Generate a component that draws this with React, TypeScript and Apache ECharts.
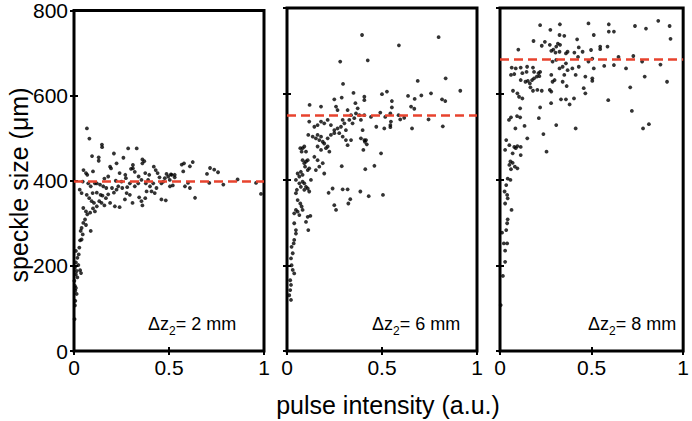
import React, { useEffect, useRef } from 'react';
import * as echarts from 'echarts';

const FONT = '"Liberation Sans", Arial, Helvetica, sans-serif';

const xTickValues = [0, 0.5, 1];
const yTickValues = [0, 200, 400, 600, 800];
const panelDistances = ['2 mm', '6 mm', '8 mm'];
const refLevels = [400, 550, 680];
const xAxisTitle = 'pulse intensity (a.u.)';
const yAxisTitle = 'speckle size (μm)';

const panel1: [number, number][] = [
  [0.068, 523], [0.081, 499], [0.095, 458], [0.13, 455], [0.13, 447], [0.147, 485], [0.148, 479],
  [0.21, 464], [0.224, 441], [0.26, 454], [0.285, 476], [0.31, 437], [0.31, 429], [0.36, 441],
  [0.33, 476], [0.36, 450], [0.37, 446], [0.42, 433], [0.43, 425], [0.44, 418], [0.19, 433],
  [0.195, 429], [0.24, 418], [0.27, 414], [0.30, 428], [0.32, 421], [0.375, 418], [0.396, 414],
  [0.487, 416], [0.496, 410], [0.51, 415], [0.53, 414], [0.567, 438], [0.579, 441], [0.61, 434],
  [0.625, 444], [0.575, 422], [0.514, 414], [0.53, 408], [0.584, 387], [0.6, 395], [0.61, 383],
  [0.637, 360], [0.70, 416], [0.716, 430], [0.738, 426], [0.758, 420], [0.712, 395], [0.786, 391],
  [0.861, 403], [0.958, 395], [0.984, 369], [0.505, 387], [0.52, 389],
  [0.05, 425], [0.063, 418], [0.046, 398], [0.03, 379], [0.04, 371], [0.075, 394], [0.088, 387],
  [0.067, 367], [0.08, 359], [0.098, 371], [0.11, 394], [0.12, 394], [0.137, 391], [0.154, 387],
  [0.17, 383], [0.2, 383], [0.224, 379], [0.233, 387], [0.254, 383], [0.273, 406], [0.294, 394],
  [0.32, 387], [0.338, 394], [0.355, 402], [0.378, 394], [0.4, 387], [0.417, 394], [0.434, 383],
  [0.46, 394], [0.478, 406], [0.504, 402], [0.093, 352], [0.105, 348], [0.12, 340],
  [0.133, 352], [0.145, 348], [0.14, 367], [0.168, 359], [0.19, 348], [0.215, 340], [0.24, 338],
  [0.268, 356], [0.308, 348], [0.343, 361], [0.355, 352], [0.36, 342], [0.375, 359], [0.382, 375],
  [0.408, 375], [0.425, 371], [0.46, 356], [0.483, 354], [0.277, 371], [0.294, 367],
  [0.16, 405], [0.18, 410], [0.22, 400], [0.25, 398], [0.28, 385], [0.34, 410], [0.39, 402],
  [0.45, 408], [0.47, 398], [0.12, 372], [0.15, 365], [0.18, 368], [0.21, 372], [0.1, 335],
  [0.085, 325], [0.11, 328], [0.16, 342],
  [0.049, 336], [0.063, 328], [0.07, 321], [0.058, 309], [0.049, 301], [0.063, 296], [0.088, 282],
  [0.04, 289], [0.035, 282], [0.046, 274], [0.032, 260], [0.04, 262], [0.028, 243], [0.01, 235],
  [0.018, 219], [0.01, 208], [0.023, 202], [0.005, 196], [0.032, 190], [0.037, 183], [0.01, 180],
  [0.018, 173], [0.005, 153], [0.01, 148], [0.007, 142], [0.014, 134], [0.005, 107], [0.003, 75],
  [0.007, 118], [0.002, 165], [0.014, 188], [0.025, 227], [0.07, 414], [0.1, 422],
];

const panel2: [number, number][] = [
  [0.395, 737], [0.28, 675], [0.425, 678], [0.295, 623], [0.35, 602], [0.407, 593], [0.407, 585],
  [0.249, 587], [0.288, 591], [0.119, 574], [0.179, 570], [0.258, 570], [0.266, 562], [0.36, 578],
  [0.372, 566], [0.319, 562], [0.337, 550], [0.363, 554], [0.381, 550], [0.117, 535], [0.144, 523],
  [0.161, 527], [0.179, 535], [0.196, 531], [0.214, 539], [0.231, 527], [0.249, 515], [0.266, 519],
  [0.284, 523], [0.293, 539], [0.302, 531], [0.31, 515], [0.328, 539], [0.345, 531], [0.354, 543],
  [0.389, 539], [0.407, 550], [0.442, 546], [0.112, 504], [0.135, 500], [0.152, 496], [0.161, 504],
  [0.17, 492], [0.179, 500], [0.188, 488], [0.196, 484], [0.214, 496], [0.231, 504], [0.249, 508],
  [0.275, 508], [0.293, 500], [0.31, 492], [0.319, 480], [0.337, 492], [0.389, 496], [0.407, 492],
  [0.398, 515], [0.416, 492], [0.082, 473], [0.091, 477], [0.1, 465], [0.07, 473], [0.077, 465],
  [0.161, 477], [0.179, 469], [0.205, 473], [0.214, 477], [0.223, 465], [0.144, 453], [0.161, 445],
  [0.17, 430], [0.152, 422], [0.188, 438], [0.196, 414], [0.082, 445], [0.091, 438], [0.1, 442],
  [0.109, 445], [0.095, 430], [0.109, 422], [0.117, 426], [0.073, 418], [0.056, 414], [0.065, 407],
  [0.082, 411], [0.047, 399], [0.065, 391], [0.082, 395], [0.091, 391], [0.1, 383], [0.109, 379],
  [0.117, 372], [0.073, 383], [0.091, 376], [0.126, 399], [0.052, 376], [0.047, 368], [0.056, 352],
  [0.07, 344], [0.077, 337], [0.082, 329], [0.047, 329], [0.056, 325], [0.038, 321], [0.065, 317],
  [0.123, 315], [0.288, 431], [0.402, 469], [0.46, 432], [0.495, 461], [0.412, 424], [0.24, 379],
  [0.293, 377], [0.319, 377], [0.219, 369], [0.43, 361], [0.505, 364], [0.249, 340], [0.258, 329],
  [0.323, 344], [0.333, 354], [0.386, 372], [0.47, 523], [0.41, 488], [0.42, 482],
  [0.109, 313], [0.1, 301], [0.112, 282], [0.038, 298], [0.047, 282], [0.047, 274], [0.038, 259],
  [0.03, 228], [0.021, 216], [0.024, 200], [0.03, 189], [0.038, 181], [0.017, 165], [0.021, 154],
  [0.017, 142], [0.021, 119], [0.012, 130], [0.035, 251], [0.024, 243],
  [0.589, 713], [0.798, 732], [0.835, 636], [0.688, 630], [0.912, 607], [0.758, 601], [0.526, 605],
  [0.5, 599], [0.552, 583], [0.552, 568], [0.637, 595], [0.672, 588], [0.707, 596], [0.816, 587],
  [0.833, 583], [0.653, 570], [0.67, 565], [0.544, 554], [0.491, 556], [0.517, 546], [0.587, 550],
  [0.596, 540], [0.617, 544], [0.547, 535], [0.544, 527], [0.544, 522], [0.745, 540], [0.82, 524],
  [0.658, 519], [0.512, 519],
];

const panel3: [number, number][] = [
  [0.219, 760], [0.327, 762], [0.483, 764], [0.275, 749], [0.183, 723], [0.228, 712], [0.245, 721],
  [0.272, 714], [0.28, 700], [0.291, 703], [0.307, 710], [0.316, 717], [0.325, 737], [0.351, 735],
  [0.328, 714], [0.303, 696], [0.325, 698], [0.36, 694], [0.369, 698], [0.406, 696], [0.421, 727],
  [0.43, 708], [0.1, 703], [0.064, 661], [0.06, 644], [0.086, 659], [0.078, 646], [0.113, 661],
  [0.122, 648], [0.145, 651], [0.148, 663], [0.18, 661], [0.186, 651], [0.21, 648], [0.219, 651],
  [0.215, 641], [0.113, 632], [0.139, 628], [0.152, 630], [0.163, 624], [0.175, 632], [0.186, 636],
  [0.201, 640], [0.166, 615], [0.18, 607], [0.204, 609], [0.228, 607], [0.287, 675], [0.307, 679],
  [0.325, 659], [0.342, 663], [0.36, 671], [0.369, 655], [0.395, 659], [0.413, 644], [0.351, 644],
  [0.28, 644], [0.287, 628], [0.298, 632], [0.272, 609], [0.28, 605], [0.342, 628], [0.364, 618],
  [0.43, 663], [0.426, 686], [0.451, 698], [0.466, 640], [0.457, 613], [0.466, 601], [0.483, 675],
  [0.504, 682], [0.497, 702], [0.504, 636], [0.504, 630], [0.071, 607], [0.095, 601], [0.104, 593],
  [0.122, 589], [0.11, 566], [0.06, 545], [0.049, 539], [0.093, 548], [0.11, 545], [0.084, 519],
  [0.134, 525], [0.149, 496], [0.219, 568], [0.212, 543], [0.279, 578], [0.333, 587], [0.36, 587],
  [0.38, 575], [0.404, 589], [0.307, 527], [0.413, 519], [0.237, 506], [0.254, 465], [0.034, 492],
  [0.028, 469], [0.051, 480], [0.078, 476], [0.095, 478], [0.086, 473], [0.113, 476], [0.069, 461],
  [0.113, 457], [0.057, 442], [0.069, 439], [0.051, 434], [0.081, 430], [0.095, 426], [0.06, 424],
  [0.042, 402], [0.057, 399], [0.034, 387], [0.025, 372], [0.039, 364], [0.042, 356],
  [0.028, 344], [0.063, 329], [0.042, 307], [0.039, 298], [0.034, 282], [0.011, 276], [0.021, 251],
  [0.039, 251], [0.028, 234], [0.028, 208], [0.016, 175], [0.004, 107],
  [0.512, 737], [0.594, 762], [0.594, 745], [0.622, 745], [0.737, 758], [0.797, 752], [0.864, 770],
  [0.926, 758], [0.931, 728], [0.547, 710], [0.547, 704], [0.587, 710], [0.647, 686], [0.728, 688],
  [0.512, 659], [0.569, 665], [0.622, 667], [0.688, 659], [0.776, 675], [0.876, 668], [0.79, 640],
  [0.711, 615], [0.912, 628], [0.591, 585], [0.72, 560], [0.781, 519], [0.813, 529],
];

const panels = [panel1, panel2, panel3];

export default function App() {
  const ref = useRef<HTMLDivElement>(null);
  useEffect(() => {
    if (!ref.current) return;
    const chart = echarts.init(ref.current, null, { renderer: 'svg' });
    const lefts = [74, 287, 500];
    const top = 8;
    const w = 190;
    const h = 343;
    const tickStyle = { show: true, inside: true, length: 4, lineStyle: { color: '#000', width: 2 } };
    const grid: any[] = [];
    const xAxis: any[] = [];
    const yAxis: any[] = [];
    const series: any[] = [];
    panels.forEach((data, i) => {
      grid.push({
        left: lefts[i], top, width: w, height: h, show: true,
        borderColor: '#000', borderWidth: 3, backgroundColor: 'transparent',
      });
      const xBase = {
        type: 'value', gridIndex: i, min: xTickValues[0], max: xTickValues[xTickValues.length - 1],
        interval: xTickValues[1] - xTickValues[0],
        axisLine: { show: false }, splitLine: { show: false }, axisTick: tickStyle,
      };
      xAxis.push({
        ...xBase, position: 'bottom',
        axisLabel: {
          show: true, color: '#000', fontSize: 21, fontFamily: FONT, margin: 6,
          showMinLabel: true, showMaxLabel: true,
        },
      });
      xAxis.push({ ...xBase, position: 'top', axisLabel: { show: false } });
      const yBase = {
        type: 'value', gridIndex: i, min: yTickValues[0], max: yTickValues[yTickValues.length - 1],
        interval: yTickValues[1] - yTickValues[0],
        axisLine: { show: false }, splitLine: { show: false }, axisTick: tickStyle,
      };
      yAxis.push({
        ...yBase, position: 'left',
        axisLabel: {
          show: i === 0, color: '#000', fontSize: 21, fontFamily: FONT, margin: 6,
          showMinLabel: true, showMaxLabel: true,
        },
      });
      yAxis.push({ ...yBase, position: 'right', axisLabel: { show: false } });
      series.push({
        type: 'scatter',
        xAxisIndex: 2 * i,
        yAxisIndex: 2 * i,
        data,
        symbol: 'circle',
        symbolSize: 3.8,
        itemStyle: { color: '#000' },
        markLine: {
          silent: true,
          symbol: ['none', 'none'],
          label: { show: false },
          lineStyle: { color: '#e8432e', width: 2.5, type: [9, 5], opacity: 1 },
          data: [{ yAxis: refLevels[i] }],
          z: 5,
        },
      });
    });

    const annX = [148, 372, 588];
    const graphic: any[] = [
      {
        type: 'text', x: 19, y: 185, rotation: Math.PI / 2,
        style: { text: yAxisTitle, font: `25px ${FONT}`, fill: '#000', align: 'center', verticalAlign: 'middle' },
      },
      {
        type: 'text', x: 388, y: 405,
        style: { text: xAxisTitle, font: `25px ${FONT}`, fill: '#000', align: 'center', verticalAlign: 'middle' },
      },
      ...panelDistances.map((d, i) => ({
        type: 'text', x: annX[i], y: 337,
        style: {
          text: `{a|Δz}{s|2}{a|= ${d}}`,
          align: 'left', verticalAlign: 'bottom', fill: '#000',
          rich: {
            a: { fontSize: 18, fontFamily: FONT, fill: '#000', color: '#000', verticalAlign: 'bottom', padding: [0, 0, 4, 0] },
            s: { fontSize: 12, fontFamily: FONT, fill: '#000', color: '#000', verticalAlign: 'bottom' },
          },
        },
      })),
    ];

    chart.setOption({
      animation: false,
      backgroundColor: '#fff',
      grid, xAxis, yAxis, series, graphic,
    });
    return () => chart.dispose();
  }, []);
  return <div ref={ref} style={{ position: 'fixed', left: 0, top: 0, width: 692, height: 421 }} />;
}
